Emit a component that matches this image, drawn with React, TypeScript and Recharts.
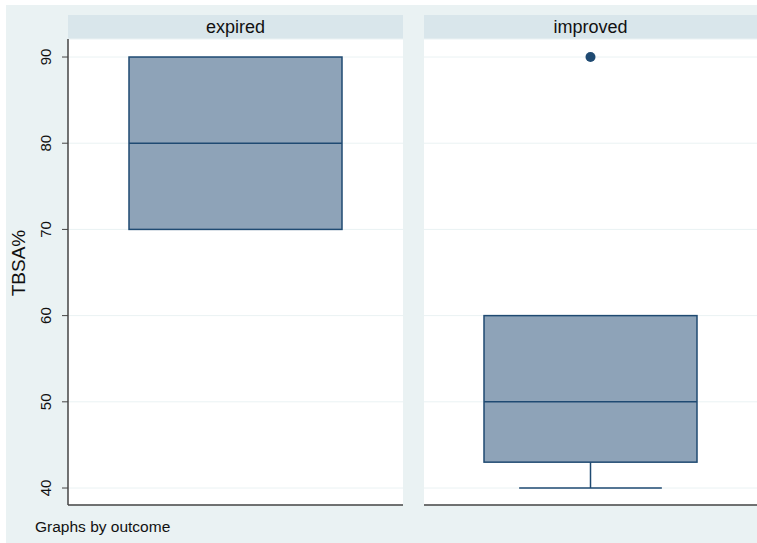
import { Bar, CartesianGrid, ComposedChart, Line, XAxis, YAxis } from "recharts";

const outcomes = ["expired", "improved"];
const q1 = [70, 43];
const median = [80, 50];
const q3 = [90, 60];
const whiskLow = [70, 40];
const whiskHigh = [90, 60];
const outliers: (number | null)[] = [null, 90];
const yTicks = [40, 50, 60, 70, 80, 90];
const yDomain = [38.03, 92.09];

const FONT = '"Liberation Sans", Arial, Helvetica, sans-serif';
const BG = "#eaf2f3";
const STRIP = "#d9e6eb";
const BOX_FILL = "#8ea3b8";
const NAVY = "#1f4a72";
const AXIS = "#444";

const BoxShape = (props: any) => {
    const { x, y, width, height, payload } = props;
    const px = (v: number) => y + (height * (payload.q3 - v)) / (payload.q3 - payload.q1);
    const cx = x + width / 2;
    const cap = width * 0.67;
    return (
        <g>
            <rect x={x} y={y} width={width} height={height} fill={BOX_FILL} stroke={NAVY} strokeWidth={1.5} />
            <line x1={x} x2={x + width} y1={px(payload.median)} y2={px(payload.median)} stroke={NAVY} strokeWidth={1.5} />
            {payload.lo < payload.q1 && (
                <g>
                    <line x1={cx} x2={cx} y1={y + height} y2={px(payload.lo)} stroke={NAVY} strokeWidth={1.5} />
                    <line x1={cx - cap / 2} x2={cx + cap / 2} y1={px(payload.lo)} y2={px(payload.lo)} stroke={NAVY} strokeWidth={1.5} />
                </g>
            )}
            {payload.hi > payload.q3 && (
                <g>
                    <line x1={cx} x2={cx} y1={y} y2={px(payload.hi)} stroke={NAVY} strokeWidth={1.5} />
                    <line x1={cx - cap / 2} x2={cx + cap / 2} y1={px(payload.hi)} y2={px(payload.hi)} stroke={NAVY} strokeWidth={1.5} />
                </g>
            )}
        </g>
    );
};

const RotTick = (props: any) => {
    const { x, y, payload } = props;
    return (
        <text transform={`translate(${x - 9},${y}) rotate(-90)`} textAnchor="middle" fontSize={15} fontFamily={FONT} fill="#111">
            {payload.value}
        </text>
    );
};

const Panel = ({ i }: { i: number }) => {
    const first = i === 0;
    const data = [{
        outcome: outcomes[i],
        box: [q1[i], q3[i]],
        q1: q1[i],
        q3: q3[i],
        median: median[i],
        lo: whiskLow[i],
        hi: whiskHigh[i],
        outlier: outliers[i],
    }];
    const w = first ? 403 : 333;
    return (
        <div style={{ position: "absolute", left: first ? 0 : 424, top: 0 }}>
            <ComposedChart width={w} height={543} data={data} margin={{ top: 39, right: 0, bottom: 37, left: 0 }}>
                <CartesianGrid vertical={false} stroke={BG} fill="#fff" />
                <XAxis dataKey="outcome" tick={false} tickLine={false} height={1} axisLine={{ stroke: AXIS, strokeWidth: 1.5 }} />
                <YAxis
                    type="number"
                    domain={yDomain}
                    ticks={yTicks}
                    allowDataOverflow
                    hide={!first}
                    width={68}
                    tick={<RotTick />}
                    tickSize={6}
                    axisLine={{ stroke: AXIS, strokeWidth: 1.5 }}
                    tickLine={{ stroke: AXIS }}
                />
                <Bar dataKey="box" barSize={213} shape={<BoxShape />} isAnimationActive={false} />
                <Line dataKey="outlier" stroke="none" dot={{ r: 5, fill: NAVY, stroke: NAVY, strokeWidth: 0 }} activeDot={false} isAnimationActive={false} />
            </ComposedChart>
        </div>
    );
};

export default function App() {
    return (
        <div style={{ position: "absolute", left: 0, top: 0, width: 757, height: 543, background: "#fff", fontFamily: FONT, overflow: "hidden" }}>
            <div style={{ position: "absolute", left: 6, top: 5, width: 751, height: 538, background: BG }} />
            <div style={{ position: "absolute", left: 68, top: 15, width: 335, height: 24, background: STRIP, fontSize: 18, lineHeight: "24px", textAlign: "center", color: "#111" }}>
                {outcomes[0]}
            </div>
            <div style={{ position: "absolute", left: 424, top: 15, width: 333, height: 24, background: STRIP, fontSize: 18, lineHeight: "24px", textAlign: "center", color: "#111" }}>
                {outcomes[1]}
            </div>
            <Panel i={0} />
            <Panel i={1} />
            <div style={{ position: "absolute", left: 12, top: 263, width: 0, height: 0 }}>
                <div style={{ position: "absolute", left: 0, top: 0, transform: "translate(-50%, -50%) rotate(-90deg)", transformOrigin: "center", whiteSpace: "nowrap", fontSize: 19, color: "#111", marginLeft: 7 }}>
                    TBSA%
                </div>
            </div>
            <div style={{ position: "absolute", left: 35, top: 518, fontSize: 15.5, color: "#111", whiteSpace: "nowrap" }}>
                Graphs by outcome
            </div>
        </div>
    );
}
